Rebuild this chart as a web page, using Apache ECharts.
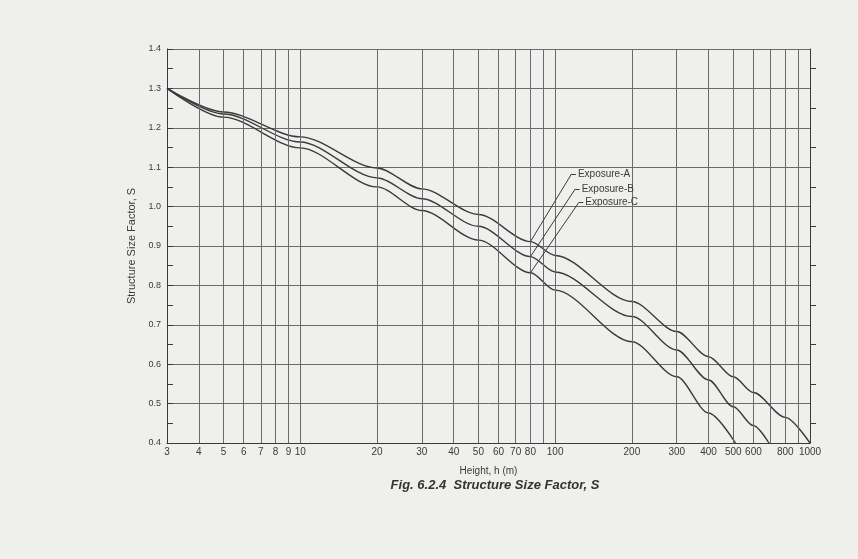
<!DOCTYPE html>
<html><head><meta charset="utf-8">
<script src="https://cdn.jsdelivr.net/npm/echarts@6/dist/echarts.min.js"></script>
<style>html,body{margin:0;padding:0;background:#efefed}#c{width:858px;height:559px}</style>
</head><body><div id="c"></div>
<script>
const heights = [3, 5, 10, 20, 30, 50, 80, 100, 200, 300, 400, 500, 600, 800, 1000];
const expA = [1.30, 1.24, 1.177, 1.098, 1.045, 0.98, 0.911, 0.876, 0.759, 0.683, 0.619, 0.568, 0.528, 0.465, 0.40];
const heightsB = [3, 5, 10, 20, 30, 50, 80, 100, 200, 300, 400, 500, 600, 690];
const expB = [1.30, 1.235, 1.164, 1.073, 1.02, 0.95, 0.873, 0.834, 0.721, 0.636, 0.56, 0.492, 0.444, 0.40];
const heightsC = [3, 5, 10, 20, 30, 50, 80, 100, 200, 300, 400, 510];
const expC = [1.30, 1.227, 1.149, 1.05, 0.99, 0.915, 0.832, 0.788, 0.657, 0.568, 0.476, 0.40];
const gridX = [4,5,6,7,8,9,10,20,30,40,50,60,70,80,90,100,200,300,400,500,600,700,800,900];
const tickLabels = ['3','4','5','6','7','8','9','10','20','30','40','50','60','70','80','100','200','300','400','500','600','800','1000'];
const names = ['Exposure-A','Exposure-B','Exposure-C'];
const leaderFrom = [0.911, 0.873, 0.832];
const leaderTo = [[116,1.083],[120,1.045],[124,1.011]];

const ink = '#3a3a3a';
const gridLines = gridX.map(v => [{coord:[v,0.4]},{coord:[v,1.4]}]);
const labelPts = tickLabels.map(t => ({coord:[Number(t),0.4], value:t}));

function mk(name, xs, ys, i){
  const to = leaderTo[i];
  return {
    name, type:'line', showSymbol:false, smooth:0.3, smoothMonotone:'x', silent:true,
    lineStyle:{color:ink,width:1.4},
    data: xs.map((x,k)=>[x,ys[k]]),
    markLine:{symbol:'none', silent:true, animation:false,
      lineStyle:{color:ink,width:1,type:'solid'},
      data:[
        [{coord:[80,leaderFrom[i]]},{coord:to}],
        [{coord:to},{coord:[to[0]*1.04,to[1]], label:{show:true,position:'end',formatter:name,color:ink,fontSize:10,fontFamily:'Liberation Sans',distance:2}}]
      ],
      label:{show:false}
    }
  };
}

const chart = echarts.init(document.getElementById('c'));
chart.setOption({
  backgroundColor:'#efefed',
  animation:false,
  grid:{left:167,right:48,top:49,bottom:116},
  title:{text:'Fig. 6.2.4  Structure Size Factor, S',left:490,top:474,textAlign:'center',
    textStyle:{fontSize:13,fontWeight:'bold',fontStyle:'italic',color:'#333',fontFamily:'Liberation Sans'}},
  xAxis:{type:'log',min:3,max:1000,logBase:10,
    name:'Height, h (m)',nameLocation:'middle',nameGap:23,
    nameTextStyle:{fontSize:10,color:ink,fontFamily:'Liberation Sans'},
    axisLine:{lineStyle:{color:ink}},axisTick:{show:false},axisLabel:{show:false},splitLine:{show:false}},
  yAxis:[{type:'value',min:0.4,max:1.4,interval:0.1,
    name:'Structure Size Factor, S',nameLocation:'middle',nameGap:30,
    nameTextStyle:{fontSize:11,color:ink,fontFamily:'Liberation Sans'},
    axisLine:{show:true,lineStyle:{color:ink}},
    axisTick:{inside:true,length:6,lineStyle:{color:ink}},
    minorTick:{show:true,splitNumber:2,length:6,lineStyle:{color:ink}},
    axisLabel:{fontSize:9,color:ink,margin:6,fontFamily:'Liberation Sans',formatter:v=>v.toFixed(1)},
    splitLine:{show:true,lineStyle:{color:'#6a6a6a',width:1}}},
   {type:'value',min:0.4,max:1.4,interval:0.1,position:'right',
    axisLine:{show:true,lineStyle:{color:ink}},axisTick:{show:false},
    minorTick:{show:true,splitNumber:2,length:6,lineStyle:{color:ink}},
    axisLabel:{show:false},splitLine:{show:false}}],
  series:[
    {type:'line',data:[[3,null]],silent:true,
     markLine:{symbol:'none',silent:true,animation:false,label:{show:false},
       lineStyle:{color:'#6a6a6a',width:1,type:'solid'},data:gridLines},
     markPoint:{symbol:'circle',symbolSize:0,silent:true,animation:false,
       label:{show:true,position:'bottom',distance:4,fontSize:10,color:ink,fontFamily:'Liberation Sans',formatter:p=>p.data.value},
       data:labelPts}},
    {type:'line',yAxisIndex:1,data:[]},
    mk(names[0],heights,expA,0),
    mk(names[1],heightsB,expB,1),
    mk(names[2],heightsC,expC,2)
  ]
});
</script></body></html>
